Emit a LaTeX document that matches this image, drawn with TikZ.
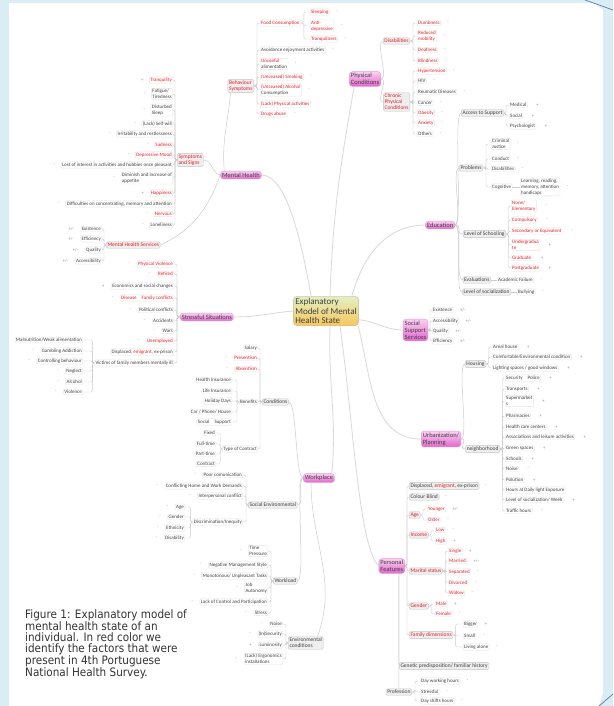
\documentclass[tikz,border=0pt]{standalone}
\usepackage{fontspec}
\setmainfont{Carlito}
\newfontfamily\capfont{DejaVu Sans}[FakeStretch=0.9]
\usetikzlibrary{positioning}
\definecolor{hotred}{RGB}{228,30,37}
\definecolor{pagebg}{RGB}{218,236,244}
\definecolor{curl}{RGB}{70,110,180}
\definecolor{pinklt}{RGB}{250,210,242}
\definecolor{pinkdk}{RGB}{226,100,204}
\definecolor{hubtop}{RGB}{226,240,196}
\definecolor{hubbot}{RGB}{248,198,92}
\newcommand{\hot}{\color{hotred}}
\tikzset{
  hub/.style={draw=gray!55, rounded corners=4pt, top color=hubtop, bottom color=hubbot,
    align=left, inner sep=2pt, text=black!75, font=\fontsize{9}{9.6}\selectfont},
  branch/.style={draw=pinkdk!70, rounded corners=3pt, top color=pinklt, bottom color=pinkdk,
    align=left, inner sep=1.6pt, text=black!75, font=\fontsize{6.5}{7}\selectfont},
  topic/.style={draw=gray!45, fill=gray!13, rounded corners=1.5pt, align=left,
    inner sep=1.3pt, text=black!75, font=\fontsize{5.5}{6}\selectfont},
  leaf/.style={draw=gray!20, rounded corners=1pt, align=left, inner sep=1pt,
    text=black!75, font=\fontsize{5}{5.7}\selectfont},
  pm/.style={inner sep=0.5pt, text=gray, font=\fontsize{4.5}{5}\selectfont},
  trunk/.style={draw=gray!30, line width=0.8pt},
  twig/.style={draw=gray!40, line width=0.5pt},
  link/.style={draw=gray!40, line width=0.4pt, rounded corners=1.5pt},
}
\begin{document}
\begin{tikzpicture}[x=1pt, y=-1pt]
\useasboundingbox (0,0) rectangle (613,706);
% page and curl
\fill[pagebg] (0,0) rectangle (613,706);
\fill[white] (9,3) -- (594,3) -- (603,10) -- (603,693) -- (599,706) -- (9,706) -- cycle;
\draw[curl, line width=0.6pt] (585,0) -- (613,10);
\draw[curl, line width=0.6pt] (599,706) -- (613,694);

% centre and main branches
\node[hub] (hub) at (326,311) {Explanatory\\Model of Mental\\Health State};
\node[branch] (mh) at (241,175) {Mental Health};
\node[branch, anchor=east] (pc) at (381,79) {Physical\\Conditions};
\node[branch, anchor=east] (edu) at (455,225) {Education};
\node[branch, anchor=east] (ssv) at (428,330) {Social\\Support\\Services};
\node[branch, anchor=east] (urb) at (461,439) {Urbanization/\\Planning};
\node[branch, anchor=east] (pf) at (405,566) {Personal\\Features};
\node[branch] (wp) at (319,478) {Workplace};
\node[branch, anchor=west] (sts) at (180,317) {Stressful Situations};

\draw[trunk] (hub.135) to[out=100,in=0,in looseness=0.5] (mh.east);
\draw[trunk] ([xshift=4pt]hub.north) to[out=88,in=-100] ([xshift=5pt]pc.south west);
\draw[trunk] (hub.30) to[out=75,in=180] (edu.west);
\draw[trunk] (hub.-15) to[out=-5,in=180] (ssv.west);
\draw[trunk] (hub.-25) to[out=-75,in=180] (urb.west);
\draw[trunk] ([xshift=14pt]hub.south) to[out=-82,in=135,in looseness=0.3] (pf.west);
\draw[trunk] ([xshift=4pt]hub.south) to[out=-92,in=85] ([xshift=-3pt]wp.north east);
\draw[trunk] (sts.east) to[out=0,in=185] (hub.west);

% Mental Health
\node[topic, anchor=west, text=hotred] (sym) at (177,160) {Symptoms\\and Signs};
\node[topic, anchor=west, text=hotred] (mhs) at (106,245) {Mental Health Services};
\node[topic, anchor=east, text=hotred] (bs) at (254,86) {Behaviour\\Symptoms};
\draw[twig] (mh.west) to[out=170,in=0] (sym.east);
\draw[twig] (mh.west) to[out=-110,in=25] (mhs.east);
\draw[twig] ([xshift=4pt]mh.north west) to[out=95,in=-95] ([xshift=3pt]bs.south west);

\foreach \i/\y/\sg/\txt in {1/80/+/{\hot Tranquility}, 2/94/-/{Fatigue/\\Tiredness},
  3/110/-/{Disturbed\\Sleep}, 4/124/-/{(Lack) Self-will}, 5/134/-/{Irritability and restlessness},
  6/145/-/{\hot Sadness}, 7/155/-/{\hot Depressive Mood},
  8/165/-/{Lost of interest in activities and hobbies once pleasant},
  9/178/-/{Diminish and increase of\\appetite}, 10/193/+/{\hot Happiness},
  11/204/-/{Difficulties on concentrating, memory and attention},
  12/214/-/{\hot Nervous}, 13/225/-/{Loneliness}}{
  \node[leaf, anchor=east] (sy\i) at (173,\y) {\txt};
  \node[pm, left=5pt of sy\i] (sy\i-s) {\sg};
  \draw[link] (sym.west) -- ++(-2,0) |- (sy\i.east);
}
\foreach \i/\y/\txt in {1/229/Existence, 2/239/Efficiency, 3/250/Quality, 4/261/Accessibility}{
  \node[leaf, anchor=east] (ms\i) at (102,\y) {\txt};
  \node[pm, left=6pt of ms\i] (ms\i-s) {+/-};
  \draw[link] (mhs.west) -- ++(-2,0) |- (ms\i.east);
}
\foreach \i/\y/\sg/\txt in {1/23//{\hot Food Consumption}, 2/50/-/{Avoidance enjoyment activities},
  3/64/-/{\hot Unuseful\\alimentation}, 4/77/-/{\hot (Unceased) Smoking},
  5/90/-/{\hot (Unceased) Alcohol\\Consumption}, 6/104//{\hot (Lack) Physical activities},
  7/114/-/{\hot Drugs abuse}}{
  \node[leaf, anchor=west] (bs\i) at (260,\y) {\txt};
  \node[pm, right=6pt of bs\i] (bs\i-s) {\sg};
  \draw[link] (bs.east) -- ++(3,0) |- (bs\i.west);
}
\foreach \i/\y/\txt in {1/12/Sleeping, 2/26/{Anti-\\depressive}, 3/39/Tranquilizers}{
  \node[leaf, anchor=west, text=hotred] (fc\i) at (310,\y) {\txt};
  \node[pm, right=6pt of fc\i] (fc\i-s) {-};
  \draw[link] (bs1.east) -- ++(3,0) |- (fc\i.west);
}

% Physical Conditions
\node[topic, anchor=east, text=hotred] (dis) at (410,41) {Disabilities};
\node[topic, anchor=east, text=hotred] (chr) at (410,102) {Chronic\\Physical\\Conditions};
\draw[twig] (pc.east) to[out=0,in=180,distance=8pt] (dis.west);
\draw[twig] (pc.east) to[out=0,in=180,distance=8pt] (chr.west);
\foreach \i/\y/\txt in {1/23/Dumbness, 2/36/{Reduced\\mobility}, 3/50/Deafness, 4/61/Blindness}{
  \node[leaf, anchor=west, text=hotred] (di\i) at (417,\y) {\txt};
  \node[pm, right=6pt of di\i] (di\i-s) {-};
  \draw[link] (dis.east) -- ++(3,0) |- (di\i.west);
}
\foreach \i/\y/\txt in {1/71/{\hot Hypertension}, 2/81/HIV, 3/92/{Reumatic Diseases}, 4/103/Cancer,
  5/113/{\hot Obesity}, 6/123/{\hot Anxiety}, 7/134/Others}{
  \node[leaf, anchor=west] (ch\i) at (417,\y) {\txt};
  \node[pm, right=6pt of ch\i] (ch\i-s) {-};
  \draw[link] (chr.east) -- ++(3,0) |- (ch\i.west);
}

% Education
\node[topic, anchor=east] (acc) at (504,113) {Access to Support};
\node[topic, anchor=east] (prb) at (483,168) {Problems};
\node[topic, anchor=east] (sch) at (506,234) {Level of Schooling};
\node[topic, anchor=east] (evl) at (491,280) {Evaluations};
\node[topic, anchor=east] (soz) at (511,292) {Level of socialization};
\foreach \nm in {acc,prb,sch,evl,soz}
  \draw[twig] (edu.east) to[out=0,in=180,distance=8pt] (\nm.west);
\foreach \i/\y/\txt in {1/105/Medical, 2/116/Social, 3/126/Psychologist}{
  \node[leaf, anchor=west] (ac\i) at (509,\y) {\txt};
  \node[pm, right=8pt of ac\i] (ac\i-s) {+};
  \draw[link] (acc.east) -- ++(2,0) |- (ac\i.west);
}
\foreach \i/\y/\sg/\txt in {1/144/-/{Criminal\\Justice}, 2/159/-/Conduct, 3/169/-/Disabilities, 4/187//Cognitive}{
  \node[leaf, anchor=west] (pr\i) at (491,\y) {\txt};
  \node[pm, right=6pt of pr\i] (pr\i-s) {\sg};
  \draw[link] (prb.east) -- ++(3,0) |- (pr\i.west);
}
\node[leaf, anchor=west] (lrn) at (520,187) {Learning, reading,\\memory, attention\\handicaps};
\node[pm, right=6pt of lrn] (lrn-s) {-};
\draw[link] (pr4.east) -- (lrn.west);
\foreach \i/\y/\sg/\txt in {1/206/-/{None/\\Elementary}, 2/220/-/Compulsory, 3/231/-/{Secondary or Equivalent},
  4/245/+/{Undergradua\\te}, 5/258/+/Graduate, 6/268/+/Postgraduate}{
  \node[leaf, anchor=west, text=hotred] (sc\i) at (511,\y) {\txt};
  \node[pm, right=8pt of sc\i] (sc\i-s) {\sg};
  \draw[link] (sch.east) -- ++(2.5,0) |- (sc\i.west);
}
\node[leaf, anchor=west] (acf) at (497,280) {Academic Failure};
\node[pm, right=6pt of acf] (acf-s) {-};
\draw[link] (evl.east) -- (acf.west);
\node[leaf, anchor=west] (bul) at (517,292) {Bullying};
\node[pm, right=6pt of bul] (bul-s) {-};
\draw[link] (soz.east) -- (bul.west);

% Social Support Services
\foreach \i/\y/\txt in {1/310/Existence, 2/321/Accessibility, 3/331/Quality, 4/341/Efficiency}{
  \node[leaf, anchor=west] (sp\i) at (432,\y) {\txt};
  \node[pm, right=6pt of sp\i] (sp\i-s) {+/-};
  \draw[link] (ssv.east) -- ++(2,0) |- (sp\i.west);
}

% Urbanization / Planning
\node[topic, anchor=east] (hou) at (486,364) {Housing};
\node[topic, anchor=east] (nbh) at (500,449) {neighborhood};
\draw[twig] (urb.east) to[out=0,in=180,distance=8pt] (hou.west);
\draw[twig] (urb.east) to[out=0,in=180,distance=8pt] (nbh.west);
\foreach \i/\y/\txt in {1/347/{Areal house}, 2/357/{Comfortable/Environmental condition},
  3/368/{Lighting spaces / good windows}}{
  \node[leaf, anchor=west] (ho\i) at (492,\y) {\txt};
  \node[pm, right=8pt of ho\i] (ho\i-s) {+};
  \draw[link] (hou.east) -- ++(2.5,0) |- (ho\i.west);
}
\foreach \i/\y/\sg/\txt in {1/378/+/{Security\quad Police}, 2/389/+/Transports, 3/401/+/{Supermarket\\s},
  4/416/+/Pharmacies, 5/427/+/{Health care centers}, 6/437/+/{Associations and leisure activities},
  7/448/+/{Green spaces}, 8/459/+/Schools, 9/469/-/Noise, 10/480/+/Polution,
  11/490//{Hours at Daily light Exposure}, 12/500/+/{Level of socialization/ Week}, 13/511/-/{Traffic hours}}{
  \node[leaf, anchor=west] (nb\i) at (505,\y) {\txt};
  \node[pm, right=8pt of nb\i] (nb\i-s) {\sg};
  \draw[link] (nbh.east) -- ++(2.5,0) |- (nb\i.west);
}

% Personal Features
\foreach \nm/\y/\txt in {dsp/486/{Displaced, {\hot emigrant}, ex-prison}, cbl/497/{Colour Blind},
  age/515/{\hot Age}, inc/535/{\hot Income}, mar/571/{\hot Marital status},
  gnd/606/{\hot Gender}, fam/635/{\hot Family dimensions}}{
  \node[topic, anchor=west] (\nm) at (409,\y) {\txt};
  \draw[link] (pf.east) -- ++(2,0) |- (\nm.west);
}
\node[pm, right=5pt of dsp] (dsp-s) {-};
\node[pm, right=5pt of cbl] (cbl-s) {-};
\foreach \i/\y/\sg/\txt in {1/509/{+/-}/Younger, 2/520/-/Older}{
  \node[leaf, anchor=west, text=hotred] (ag\i) at (427,\y) {\txt};
  \node[pm, right=6pt of ag\i] (ag\i-s) {\sg};
  \draw[link] (age.east) -- ++(2.5,0) |- (ag\i.west);
}
\foreach \i/\y/\sg/\txt in {1/530/-/Low, 2/541/+/High}{
  \node[leaf, anchor=west, text=hotred] (in\i) at (435,\y) {\txt};
  \node[pm, right=6pt of in\i] (in\i-s) {\sg};
  \draw[link] (inc.east) -- ++(2.5,0) |- (in\i.west);
}
\foreach \i/\y/\sg/\txt in {1/551/+/Single, 2/561/{+/-}/Married, 3/572/-/Separated, 4/583/-/Divorced, 5/593/-/Widow}{
  \node[leaf, anchor=west, text=hotred] (ma\i) at (448,\y) {\txt};
  \node[pm, right=6pt of ma\i] (ma\i-s) {\sg};
  \draw[link] (mar.east) -- ++(2.5,0) |- (ma\i.west);
}
\foreach \i/\y/\sg/\txt in {1/604/+/Male, 2/614/-/Female}{
  \node[leaf, anchor=west, text=hotred] (gd\i) at (435,\y) {\txt};
  \node[pm, right=6pt of gd\i] (gd\i-s) {\sg};
  \draw[link] (gnd.east) -- ++(2.5,0) |- (gd\i.west);
}
\foreach \i/\y/\sg/\txt in {1/624/+/Bigger, 2/636/-/Small, 3/647/-/{Living alone}}{
  \node[leaf, anchor=west] (fm\i) at (463,\y) {\txt};
  \node[pm, right=6pt of fm\i] (fm\i-s) {\sg};
  \draw[link] (fam.east) -- ++(2.5,0) |- (fm\i.west);
}
\node[topic, anchor=west] (gen) at (399,666) {Genetic predisposition/ familiar history};
\node[topic, anchor=east] (prf) at (412,692) {Profession};
\draw[link] ([xshift=7pt]pf.south) |- (gen.west);
\draw[link] ([xshift=7pt]pf.south) -- (prf.north);
\foreach \i/\y/\txt in {1/681/{Day working hours}, 2/692/Stressful, 3/701/{Day shifts hours}}{
  \node[leaf, anchor=west] (pw\i) at (420,\y) {\txt};
  \node[pm, right=6pt of pw\i] (pw\i-s) {-};
  \draw[link] (prf.east) -- ++(3,0) |- (pw\i.west);
}

% Workplace
\node[topic, anchor=west] (cnd) at (262,402) {Conditions};
\node[topic, anchor=west] (sen) at (248,505) {Social Environmental};
\node[topic, anchor=west] (wkl) at (273,581) {Workload};
\node[topic, anchor=west] (env) at (288,643) {Environmental\\conditions};
\draw[twig] (wp.west) to[out=180,in=0,distance=8pt] (cnd.east);
\draw[twig] (wp.west) to[out=180,in=0,distance=8pt] (sen.east);
\draw[twig] (wp.west) to[out=180,in=0,distance=8pt] (wkl.east);
\draw[twig] ([xshift=-8pt]wp.south) to[out=-90,in=70] ([xshift=-6pt]env.north east);
\foreach \i/\y/\sg/\txt in {1/348//Salary, 2/358/-/{\hot Presentism}, 3/369/-/{\hot Absentism},
  4/402//Benefits, 5/449//{Type of Contract}}{
  \node[leaf, anchor=east] (cn\i) at (258,\y) {\txt};
  \node[pm, left=6pt of cn\i] (cn\i-s) {\sg};
  \draw[link] (cnd.west) -- ++(-2,0) |- (cn\i.east);
}
\foreach \i/\y/\txt in {1/380/{Health Insurance}, 2/391/{Life Insurance}, 3/401/{Holiday Days},
  4/412/{Car / Phone/ House}, 5/422/{Social\quad Support}}{
  \node[leaf, anchor=east] (bn\i) at (232,\y) {\txt};
  \draw[link] (cn4.west) -- ++(-2,0) |- (bn\i.east);
}
\foreach \i/\y/\txt in {1/433/Fixed, 2/444/Full-time, 3/454/Part-time, 4/464/Contract}{
  \node[leaf, anchor=east] (tc\i) at (216,\y) {\txt};
  \draw[link] (cn5.west) -- ++(-2,0) |- (tc\i.east);
}
\foreach \i/\y/\sg/\txt in {1/475/-/{Poor comunication}, 2/486/-/{Conflicting Home and Work Demands},
  3/496/-/{Interpersonal conflict}, 4/522//{Discrimination/Inequity}}{
  \node[leaf, anchor=east] (se\i) at (243,\y) {\txt};
  \node[pm, left=6pt of se\i] (se\i-s) {\sg};
  \draw[link] (sen.west) -- ++(-2,0) |- (se\i.east);
}
\foreach \i/\y/\txt in {1/507/Age, 2/517/Gender, 3/528/Ethnicity, 4/538/Disability}{
  \node[leaf, anchor=east] (dc\i) at (185,\y) {\txt};
  \node[pm, left=6pt of dc\i] (dc\i-s) {-};
  \draw[link] (se4.west) -- ++(-2,0) |- (dc\i.east);
}
\foreach \i/\y/\txt in {1/551/{Time\\Pressure}, 2/565/{Negative Management Style},
  3/576/{Monotonous/ Unpleasant Tasks}, 4/588/{Job\\Autonomy},
  5/602/{Lack of Control and Participation}, 6/613/Stress}{
  \node[leaf, anchor=east] (wl\i) at (268,\y) {\txt};
  \node[pm, left=6pt of wl\i] (wl\i-s) {-};
  \draw[link] (wkl.west) -- ++(-2,0) |- (wl\i.east);
}
\foreach \i/\y/\sg/\txt in {1/624/-/Noise, 2/634/-/{(In)Security}, 3/645/+/Luminosity,
  4/659/-/{(Lack) Ergonomics\\installations}}{
  \node[leaf, anchor=east] (en\i) at (283,\y) {\txt};
  \node[pm, left=6pt of en\i] (en\i-s) {\sg};
  \draw[link] (env.west) -- ++(-2,0) |- (en\i.east);
}

% Stressful Situations
\foreach \i/\y/\sg/\txt in {1/264/-/{\hot Physical Violence}, 2/274/-/{\hot Retired},
  3/286/+/{Economics and social changes}, 4/298/-/{\hot Disease\quad Family conflicts},
  5/310/-/{Political conflicts}, 6/321/-/Accidents, 7/331/-/Wars, 8/341/-/{\hot Unemployed},
  9/352//{Displaced, {\hot emigrant}, ex-prison}, 10/363//{Victims of family members mentally ill}}{
  \node[leaf, anchor=east] (st\i) at (174,\y) {\txt};
  \node[pm, left=6pt of st\i] (st\i-s) {\sg};
  \draw[link] (sts.west) -- ++(-3,0) |- (st\i.east);
}
\foreach \i/\y/\sg/\txt in {1/340//{Malnutrition/Weak alimentation}, 2/351/-/{Gambling Addiction},
  3/361/-/{Controlling behaviour}, 4/371/-/Neglect, 5/382/-/Alcohol, 6/392/-/Violence}{
  \node[leaf, anchor=east] (vc\i) at (83,\y) {\txt};
  \node[pm, left=6pt of vc\i] (vc\i-s) {\sg};
  \draw[link] (st10.west) -- ++(-2,0) |- (vc\i.east);
}

% caption
\node[anchor=north west, align=left, inner sep=0pt, text=black!80,
  font=\capfont\fontsize{11.6}{10.9}\selectfont] (cap) at (25,609)
  {Figure 1: Explanatory model of\\mental health state of an\\individual. In red color we\\identify the factors that were\\present in 4th Portuguese\\National Health Survey.};
\end{tikzpicture}
\end{document}
